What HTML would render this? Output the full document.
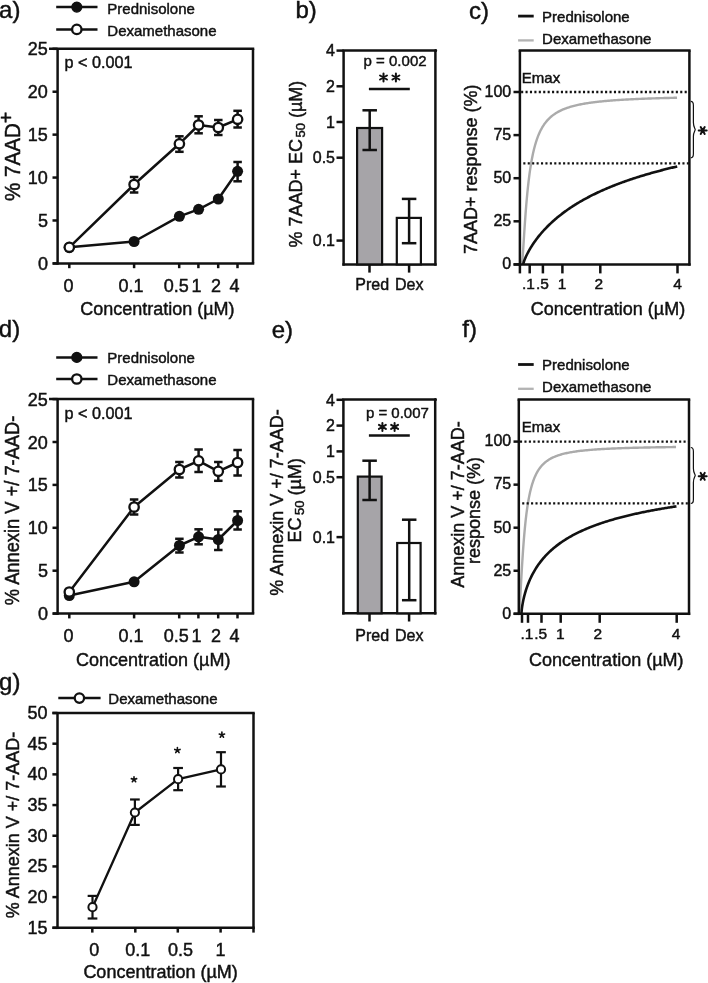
<!DOCTYPE html>
<html><head><meta charset="utf-8"><style>
html,body{margin:0;padding:0;background:#fff;}
svg{display:block;will-change:transform;}
text{font-family:"Liberation Sans",sans-serif;fill:#111;stroke:#111;stroke-width:0.45px;}
</style></head><body>
<svg width="708" height="983" viewBox="0 0 708 983">
<rect width="708" height="983" fill="#fff"/>
<text x="-0.9" y="18.3" font-size="24">a)</text>
<text x="295.5" y="17.8" font-size="24">b)</text>
<text x="469" y="18.5" font-size="24">c)</text>
<text x="-1.2" y="337.4" font-size="24">d)</text>
<text x="271.7" y="337.6" font-size="24">e)</text>
<text x="462.3" y="337.2" font-size="24">f)</text>
<text x="-0.9" y="689.5" font-size="24">g)</text>
<line x1="57.6" y1="48.8" x2="57.6" y2="264.65" stroke="#111" stroke-width="2.5"/>
<line x1="49" y1="48.8" x2="254.25" y2="48.8" stroke="#111" stroke-width="2.5"/>
<line x1="253" y1="48.8" x2="253" y2="263.4" stroke="#111" stroke-width="2.5"/>
<line x1="52.7" y1="263.4" x2="254.25" y2="263.4" stroke="#111" stroke-width="2.5"/>
<line x1="52.5" y1="263.4" x2="57.6" y2="263.4" stroke="#111" stroke-width="2.5"/>
<text x="47.9" y="269.9" font-size="18" text-anchor="end">0</text>
<line x1="52.5" y1="220.48" x2="57.6" y2="220.48" stroke="#111" stroke-width="2.5"/>
<text x="47.9" y="226.98" font-size="18" text-anchor="end">5</text>
<line x1="52.5" y1="177.56" x2="57.6" y2="177.56" stroke="#111" stroke-width="2.5"/>
<text x="47.9" y="184.06" font-size="18" text-anchor="end">10</text>
<line x1="52.5" y1="134.64" x2="57.6" y2="134.64" stroke="#111" stroke-width="2.5"/>
<text x="47.9" y="141.14" font-size="18" text-anchor="end">15</text>
<line x1="52.5" y1="91.72" x2="57.6" y2="91.72" stroke="#111" stroke-width="2.5"/>
<text x="47.9" y="98.22" font-size="18" text-anchor="end">20</text>
<line x1="52.5" y1="48.8" x2="57.6" y2="48.8" stroke="#111" stroke-width="2.5"/>
<text x="47.9" y="55.3" font-size="18" text-anchor="end">25</text>
<line x1="69.3" y1="263.4" x2="69.3" y2="268.2" stroke="#111" stroke-width="2.5"/>
<line x1="134.1" y1="263.4" x2="134.1" y2="268.2" stroke="#111" stroke-width="2.5"/>
<line x1="179.2" y1="263.4" x2="179.2" y2="268.2" stroke="#111" stroke-width="2.5"/>
<line x1="198.4" y1="263.4" x2="198.4" y2="268.2" stroke="#111" stroke-width="2.5"/>
<line x1="218.2" y1="263.4" x2="218.2" y2="268.2" stroke="#111" stroke-width="2.5"/>
<line x1="237.5" y1="263.4" x2="237.5" y2="268.2" stroke="#111" stroke-width="2.5"/>
<text x="68.6" y="291.6" font-size="18" text-anchor="middle">0</text>
<text x="131" y="291.6" font-size="18" text-anchor="middle">0.1</text>
<text x="176.3" y="291.6" font-size="18" text-anchor="middle">0.5</text>
<text x="196.5" y="291.6" font-size="18" text-anchor="middle">1</text>
<text x="215.9" y="291.6" font-size="18" text-anchor="middle">2</text>
<text x="234.6" y="291.6" font-size="18" text-anchor="middle">4</text>
<text x="157.4" y="314.8" font-size="18" text-anchor="middle">Concentration (µM)</text>
<text x="64.6" y="68.1" font-size="16.2">p &lt; 0.001</text>
<line x1="56.2" y1="7.1" x2="97.5" y2="7.1" stroke="#111" stroke-width="2.5"/>
<circle cx="76.8" cy="7.1" r="5" fill="#111" stroke="#111" stroke-width="1.2"/>
<text x="107.3" y="13.7" font-size="15">Prednisolone</text>
<line x1="56.2" y1="29.4" x2="97.5" y2="29.4" stroke="#111" stroke-width="2.5"/>
<circle cx="76.8" cy="29.4" r="4.7" fill="#fff" stroke="#111" stroke-width="2.3"/>
<text x="107.3" y="35.6" font-size="15">Dexamethasone</text>
<text transform="translate(20.4,201) rotate(-90) scale(1.0,1.08)" font-size="20.6">% 7AAD<tspan font-size="19.5" dy="-7.0">+</tspan></text>
<line x1="237.6" y1="162" x2="237.6" y2="181.3" stroke="#111" stroke-width="2.5"/>
<line x1="233.35" y1="162" x2="241.85" y2="162" stroke="#111" stroke-width="2.5"/>
<line x1="233.35" y1="181.3" x2="241.85" y2="181.3" stroke="#111" stroke-width="2.5"/>
<line x1="134.1" y1="177" x2="134.1" y2="192.5" stroke="#111" stroke-width="2.5"/>
<line x1="129.85" y1="177" x2="138.35" y2="177" stroke="#111" stroke-width="2.5"/>
<line x1="129.85" y1="192.5" x2="138.35" y2="192.5" stroke="#111" stroke-width="2.5"/>
<line x1="179.4" y1="136.3" x2="179.4" y2="151.8" stroke="#111" stroke-width="2.5"/>
<line x1="175.15" y1="136.3" x2="183.65" y2="136.3" stroke="#111" stroke-width="2.5"/>
<line x1="175.15" y1="151.8" x2="183.65" y2="151.8" stroke="#111" stroke-width="2.5"/>
<line x1="198.6" y1="116.3" x2="198.6" y2="133.3" stroke="#111" stroke-width="2.5"/>
<line x1="194.35" y1="116.3" x2="202.85" y2="116.3" stroke="#111" stroke-width="2.5"/>
<line x1="194.35" y1="133.3" x2="202.85" y2="133.3" stroke="#111" stroke-width="2.5"/>
<line x1="218.3" y1="120" x2="218.3" y2="135" stroke="#111" stroke-width="2.5"/>
<line x1="214.05" y1="120" x2="222.55" y2="120" stroke="#111" stroke-width="2.5"/>
<line x1="214.05" y1="135" x2="222.55" y2="135" stroke="#111" stroke-width="2.5"/>
<line x1="237.6" y1="110.8" x2="237.6" y2="127.5" stroke="#111" stroke-width="2.5"/>
<line x1="233.35" y1="110.8" x2="241.85" y2="110.8" stroke="#111" stroke-width="2.5"/>
<line x1="233.35" y1="127.5" x2="241.85" y2="127.5" stroke="#111" stroke-width="2.5"/>
<polyline points="69.3,247.3 134.1,241.5 179.4,216.3 198.6,209.3 218.3,199 237.6,171.3" fill="none" stroke="#111" stroke-width="2.5" stroke-linejoin="round"/>
<polyline points="69.3,247.3 134.1,184.5 179.4,143.8 198.6,125 218.3,127.5 237.6,119.3" fill="none" stroke="#111" stroke-width="2.5" stroke-linejoin="round"/>
<circle cx="69.3" cy="247.3" r="5.5" fill="#111" stroke="#111" stroke-width="0.01"/>
<circle cx="134.1" cy="241.5" r="5.5" fill="#111" stroke="#111" stroke-width="0.01"/>
<circle cx="179.4" cy="216.3" r="5.5" fill="#111" stroke="#111" stroke-width="0.01"/>
<circle cx="198.6" cy="209.3" r="5.5" fill="#111" stroke="#111" stroke-width="0.01"/>
<circle cx="218.3" cy="199" r="5.5" fill="#111" stroke="#111" stroke-width="0.01"/>
<circle cx="237.6" cy="171.3" r="5.5" fill="#111" stroke="#111" stroke-width="0.01"/>
<circle cx="69.3" cy="247.3" r="4.7" fill="#fff" stroke="#111" stroke-width="2.3"/>
<circle cx="134.1" cy="184.5" r="4.7" fill="#fff" stroke="#111" stroke-width="2.3"/>
<circle cx="179.4" cy="143.8" r="4.7" fill="#fff" stroke="#111" stroke-width="2.3"/>
<circle cx="198.6" cy="125" r="4.7" fill="#fff" stroke="#111" stroke-width="2.3"/>
<circle cx="218.3" cy="127.5" r="4.7" fill="#fff" stroke="#111" stroke-width="2.3"/>
<circle cx="237.6" cy="119.3" r="4.7" fill="#fff" stroke="#111" stroke-width="2.3"/>
<line x1="57.6" y1="399.1" x2="57.6" y2="614.85" stroke="#111" stroke-width="2.5"/>
<line x1="49" y1="399.1" x2="254.25" y2="399.1" stroke="#111" stroke-width="2.5"/>
<line x1="253" y1="399.1" x2="253" y2="613.6" stroke="#111" stroke-width="2.5"/>
<line x1="52.7" y1="613.6" x2="254.25" y2="613.6" stroke="#111" stroke-width="2.5"/>
<line x1="52.5" y1="613.6" x2="57.6" y2="613.6" stroke="#111" stroke-width="2.5"/>
<text x="47.9" y="620.1" font-size="18" text-anchor="end">0</text>
<line x1="52.5" y1="570.7" x2="57.6" y2="570.7" stroke="#111" stroke-width="2.5"/>
<text x="47.9" y="577.2" font-size="18" text-anchor="end">5</text>
<line x1="52.5" y1="527.8" x2="57.6" y2="527.8" stroke="#111" stroke-width="2.5"/>
<text x="47.9" y="534.3" font-size="18" text-anchor="end">10</text>
<line x1="52.5" y1="484.9" x2="57.6" y2="484.9" stroke="#111" stroke-width="2.5"/>
<text x="47.9" y="491.4" font-size="18" text-anchor="end">15</text>
<line x1="52.5" y1="442" x2="57.6" y2="442" stroke="#111" stroke-width="2.5"/>
<text x="47.9" y="448.5" font-size="18" text-anchor="end">20</text>
<line x1="52.5" y1="399.1" x2="57.6" y2="399.1" stroke="#111" stroke-width="2.5"/>
<text x="47.9" y="405.6" font-size="18" text-anchor="end">25</text>
<line x1="69.3" y1="613.6" x2="69.3" y2="618.4" stroke="#111" stroke-width="2.5"/>
<line x1="134.1" y1="613.6" x2="134.1" y2="618.4" stroke="#111" stroke-width="2.5"/>
<line x1="179.2" y1="613.6" x2="179.2" y2="618.4" stroke="#111" stroke-width="2.5"/>
<line x1="198.4" y1="613.6" x2="198.4" y2="618.4" stroke="#111" stroke-width="2.5"/>
<line x1="218.2" y1="613.6" x2="218.2" y2="618.4" stroke="#111" stroke-width="2.5"/>
<line x1="237.5" y1="613.6" x2="237.5" y2="618.4" stroke="#111" stroke-width="2.5"/>
<text x="68.6" y="641.6" font-size="18" text-anchor="middle">0</text>
<text x="131" y="641.6" font-size="18" text-anchor="middle">0.1</text>
<text x="176.3" y="641.6" font-size="18" text-anchor="middle">0.5</text>
<text x="196.5" y="641.6" font-size="18" text-anchor="middle">1</text>
<text x="215.9" y="641.6" font-size="18" text-anchor="middle">2</text>
<text x="234.6" y="641.6" font-size="18" text-anchor="middle">4</text>
<text x="153.2" y="666" font-size="18" text-anchor="middle">Concentration (µM)</text>
<text x="64.6" y="418.6" font-size="16.2">p &lt; 0.001</text>
<line x1="56.2" y1="357.4" x2="97.5" y2="357.4" stroke="#111" stroke-width="2.5"/>
<circle cx="76.8" cy="357.4" r="5" fill="#111" stroke="#111" stroke-width="1.2"/>
<text x="107.3" y="363.4" font-size="15">Prednisolone</text>
<line x1="56.2" y1="379" x2="97.5" y2="379" stroke="#111" stroke-width="2.5"/>
<circle cx="76.8" cy="379" r="4.7" fill="#fff" stroke="#111" stroke-width="2.3"/>
<text x="107.3" y="385.3" font-size="15">Dexamethasone</text>
<text transform="translate(19.4,605.2) rotate(-90) scale(1.0,1.1)" font-size="18.3">% Annexin V +/ 7-AAD-</text>
<line x1="179.4" y1="538.8" x2="179.4" y2="552.5" stroke="#111" stroke-width="2.5"/>
<line x1="175.15" y1="538.8" x2="183.65" y2="538.8" stroke="#111" stroke-width="2.5"/>
<line x1="175.15" y1="552.5" x2="183.65" y2="552.5" stroke="#111" stroke-width="2.5"/>
<line x1="198.6" y1="529.3" x2="198.6" y2="544.3" stroke="#111" stroke-width="2.5"/>
<line x1="194.35" y1="529.3" x2="202.85" y2="529.3" stroke="#111" stroke-width="2.5"/>
<line x1="194.35" y1="544.3" x2="202.85" y2="544.3" stroke="#111" stroke-width="2.5"/>
<line x1="218.3" y1="529.5" x2="218.3" y2="550" stroke="#111" stroke-width="2.5"/>
<line x1="214.05" y1="529.5" x2="222.55" y2="529.5" stroke="#111" stroke-width="2.5"/>
<line x1="214.05" y1="550" x2="222.55" y2="550" stroke="#111" stroke-width="2.5"/>
<line x1="237.6" y1="511.3" x2="237.6" y2="529.5" stroke="#111" stroke-width="2.5"/>
<line x1="233.35" y1="511.3" x2="241.85" y2="511.3" stroke="#111" stroke-width="2.5"/>
<line x1="233.35" y1="529.5" x2="241.85" y2="529.5" stroke="#111" stroke-width="2.5"/>
<line x1="134.1" y1="499.5" x2="134.1" y2="514.5" stroke="#111" stroke-width="2.5"/>
<line x1="129.85" y1="499.5" x2="138.35" y2="499.5" stroke="#111" stroke-width="2.5"/>
<line x1="129.85" y1="514.5" x2="138.35" y2="514.5" stroke="#111" stroke-width="2.5"/>
<line x1="179.4" y1="462" x2="179.4" y2="477.5" stroke="#111" stroke-width="2.5"/>
<line x1="175.15" y1="462" x2="183.65" y2="462" stroke="#111" stroke-width="2.5"/>
<line x1="175.15" y1="477.5" x2="183.65" y2="477.5" stroke="#111" stroke-width="2.5"/>
<line x1="198.6" y1="449.5" x2="198.6" y2="472" stroke="#111" stroke-width="2.5"/>
<line x1="194.35" y1="449.5" x2="202.85" y2="449.5" stroke="#111" stroke-width="2.5"/>
<line x1="194.35" y1="472" x2="202.85" y2="472" stroke="#111" stroke-width="2.5"/>
<line x1="218.3" y1="462" x2="218.3" y2="480.8" stroke="#111" stroke-width="2.5"/>
<line x1="214.05" y1="462" x2="222.55" y2="462" stroke="#111" stroke-width="2.5"/>
<line x1="214.05" y1="480.8" x2="222.55" y2="480.8" stroke="#111" stroke-width="2.5"/>
<line x1="237.6" y1="450" x2="237.6" y2="475.5" stroke="#111" stroke-width="2.5"/>
<line x1="233.35" y1="450" x2="241.85" y2="450" stroke="#111" stroke-width="2.5"/>
<line x1="233.35" y1="475.5" x2="241.85" y2="475.5" stroke="#111" stroke-width="2.5"/>
<polyline points="69.3,595.5 134.1,581.8 179.4,545.5 198.6,536.8 218.3,539.5 237.6,520.5" fill="none" stroke="#111" stroke-width="2.5" stroke-linejoin="round"/>
<polyline points="69.3,592 134.1,507 179.4,469.5 198.6,460.8 218.3,471.3 237.6,462.5" fill="none" stroke="#111" stroke-width="2.5" stroke-linejoin="round"/>
<circle cx="69.3" cy="595.5" r="5.5" fill="#111" stroke="#111" stroke-width="0.01"/>
<circle cx="134.1" cy="581.8" r="5.5" fill="#111" stroke="#111" stroke-width="0.01"/>
<circle cx="179.4" cy="545.5" r="5.5" fill="#111" stroke="#111" stroke-width="0.01"/>
<circle cx="198.6" cy="536.8" r="5.5" fill="#111" stroke="#111" stroke-width="0.01"/>
<circle cx="218.3" cy="539.5" r="5.5" fill="#111" stroke="#111" stroke-width="0.01"/>
<circle cx="237.6" cy="520.5" r="5.5" fill="#111" stroke="#111" stroke-width="0.01"/>
<circle cx="69.3" cy="592" r="4.7" fill="#fff" stroke="#111" stroke-width="2.3"/>
<circle cx="134.1" cy="507" r="4.7" fill="#fff" stroke="#111" stroke-width="2.3"/>
<circle cx="179.4" cy="469.5" r="4.7" fill="#fff" stroke="#111" stroke-width="2.3"/>
<circle cx="198.6" cy="460.8" r="4.7" fill="#fff" stroke="#111" stroke-width="2.3"/>
<circle cx="218.3" cy="471.3" r="4.7" fill="#fff" stroke="#111" stroke-width="2.3"/>
<circle cx="237.6" cy="462.5" r="4.7" fill="#fff" stroke="#111" stroke-width="2.3"/>
<line x1="343.6" y1="50.6" x2="343.6" y2="265.65" stroke="#111" stroke-width="2.5"/>
<line x1="342.35" y1="50.6" x2="436.65" y2="50.6" stroke="#111" stroke-width="2.5"/>
<line x1="435.4" y1="50.6" x2="435.4" y2="265.65" stroke="#111" stroke-width="2.5"/>
<line x1="342.35" y1="264.4" x2="436.65" y2="264.4" stroke="#111" stroke-width="2.5"/>
<circle cx="435.6" cy="50.4" r="1.5" fill="#111" stroke="#111" stroke-width="0.01"/>
<line x1="336.5" y1="50.6" x2="343.6" y2="50.6" stroke="#111" stroke-width="2.5"/>
<text x="335" y="56.3" font-size="16" text-anchor="end">4</text>
<line x1="336.5" y1="86.3" x2="343.6" y2="86.3" stroke="#111" stroke-width="2.5"/>
<text x="335" y="92" font-size="16" text-anchor="end">2</text>
<line x1="336.5" y1="122" x2="343.6" y2="122" stroke="#111" stroke-width="2.5"/>
<text x="335" y="127.7" font-size="16" text-anchor="end">1</text>
<line x1="336.5" y1="157.7" x2="343.6" y2="157.7" stroke="#111" stroke-width="2.5"/>
<text x="335" y="163.4" font-size="16" text-anchor="end">0.5</text>
<line x1="336.5" y1="240.59" x2="343.6" y2="240.59" stroke="#111" stroke-width="2.5"/>
<text x="335" y="246.29" font-size="16" text-anchor="end">0.1</text>
<line x1="369.5" y1="264.4" x2="369.5" y2="272.6" stroke="#111" stroke-width="2.5"/>
<line x1="409.1" y1="264.4" x2="409.1" y2="272.6" stroke="#111" stroke-width="2.5"/>
<text x="372.2" y="290.1" font-size="16" text-anchor="middle">Pred</text>
<text x="409.3" y="290.1" font-size="16" text-anchor="middle">Dex</text>
<rect x="357.1" y="128" width="25" height="136.4" fill="#a6a4a8" stroke="#111" stroke-width="2.2"/>
<rect x="396.8" y="217.9" width="24.1" height="46.5" fill="#fff" stroke="#111" stroke-width="2.2"/>
<line x1="369.7" y1="110.3" x2="369.7" y2="150" stroke="#111" stroke-width="2.5"/>
<line x1="362.45" y1="110.3" x2="376.95" y2="110.3" stroke="#111" stroke-width="2.5"/>
<line x1="362.45" y1="150" x2="376.95" y2="150" stroke="#111" stroke-width="2.5"/>
<line x1="409.1" y1="198.9" x2="409.1" y2="243.2" stroke="#111" stroke-width="2.5"/>
<line x1="401.85" y1="198.9" x2="416.35" y2="198.9" stroke="#111" stroke-width="2.5"/>
<line x1="401.85" y1="243.2" x2="416.35" y2="243.2" stroke="#111" stroke-width="2.5"/>
<text x="363.6" y="66.4" font-size="15">p = 0.002</text>
<path d="M383.5,73.5L383.5,81.5M380.04,75.5L386.96,79.5M386.96,75.5L380.04,79.5" stroke="#111" stroke-width="2" stroke-linecap="round" fill="none"/>
<path d="M395.9,73.5L395.9,81.5M392.44,75.5L399.36,79.5M399.36,75.5L392.44,79.5" stroke="#111" stroke-width="2" stroke-linecap="round" fill="none"/>
<line x1="368.9" y1="88.9" x2="409.8" y2="88.9" stroke="#111" stroke-width="2.5"/>
<text transform="translate(302.4,247.6) rotate(-90)" font-size="18">% 7AAD+ EC<tspan dx="1.5" font-size="13" dy="3">50</tspan><tspan dy="-3"> (µM)</tspan></text>
<line x1="343.4" y1="399.6" x2="343.4" y2="614.55" stroke="#111" stroke-width="2.5"/>
<line x1="342.15" y1="399.6" x2="436.45" y2="399.6" stroke="#111" stroke-width="2.5"/>
<line x1="435.2" y1="399.6" x2="435.2" y2="614.55" stroke="#111" stroke-width="2.5"/>
<line x1="342.15" y1="613.3" x2="436.45" y2="613.3" stroke="#111" stroke-width="2.5"/>
<circle cx="435.4" cy="399.4" r="1.5" fill="#111" stroke="#111" stroke-width="0.01"/>
<line x1="336.5" y1="399.8" x2="343.4" y2="399.8" stroke="#111" stroke-width="2.5"/>
<text x="335" y="405.5" font-size="16" text-anchor="end">4</text>
<line x1="336.5" y1="425.6" x2="343.4" y2="425.6" stroke="#111" stroke-width="2.5"/>
<text x="335" y="431.3" font-size="16" text-anchor="end">2</text>
<line x1="336.5" y1="451.4" x2="343.4" y2="451.4" stroke="#111" stroke-width="2.5"/>
<text x="335" y="457.1" font-size="16" text-anchor="end">1</text>
<line x1="336.5" y1="477.2" x2="343.4" y2="477.2" stroke="#111" stroke-width="2.5"/>
<text x="335" y="482.9" font-size="16" text-anchor="end">0.5</text>
<line x1="336.5" y1="537.11" x2="343.4" y2="537.11" stroke="#111" stroke-width="2.5"/>
<text x="335" y="542.81" font-size="16" text-anchor="end">0.1</text>
<line x1="369.5" y1="613.3" x2="369.5" y2="621.5" stroke="#111" stroke-width="2.5"/>
<line x1="409.1" y1="613.3" x2="409.1" y2="621.5" stroke="#111" stroke-width="2.5"/>
<text x="372.2" y="640.5" font-size="16" text-anchor="middle">Pred</text>
<text x="409.3" y="640.5" font-size="16" text-anchor="middle">Dex</text>
<rect x="357.8" y="476.6" width="23.8" height="136.7" fill="#a6a4a8" stroke="#111" stroke-width="2.2"/>
<rect x="397.2" y="543" width="23.4" height="70.3" fill="#fff" stroke="#111" stroke-width="2.2"/>
<line x1="369.6" y1="460.7" x2="369.6" y2="500" stroke="#111" stroke-width="2.5"/>
<line x1="362.35" y1="460.7" x2="376.85" y2="460.7" stroke="#111" stroke-width="2.5"/>
<line x1="362.35" y1="500" x2="376.85" y2="500" stroke="#111" stroke-width="2.5"/>
<line x1="409.2" y1="519.7" x2="409.2" y2="600.2" stroke="#111" stroke-width="2.5"/>
<line x1="401.95" y1="519.7" x2="416.45" y2="519.7" stroke="#111" stroke-width="2.5"/>
<line x1="401.95" y1="600.2" x2="416.45" y2="600.2" stroke="#111" stroke-width="2.5"/>
<text x="365.9" y="417.9" font-size="15">p = 0.007</text>
<path d="M382.4,422.9L382.4,430.9M378.94,424.9L385.86,428.9M385.86,424.9L378.94,428.9" stroke="#111" stroke-width="2" stroke-linecap="round" fill="none"/>
<path d="M394.6,422.9L394.6,430.9M391.14,424.9L398.06,428.9M398.06,424.9L391.14,428.9" stroke="#111" stroke-width="2" stroke-linecap="round" fill="none"/>
<line x1="368.9" y1="435.6" x2="409.8" y2="435.6" stroke="#111" stroke-width="2.5"/>
<text transform="translate(283.2,595.8) rotate(-90)" font-size="18">% Annexin V +/ 7-AAD-</text>
<text transform="translate(301.2,542.4) rotate(-90)" font-size="18">EC<tspan dx="2.5" font-size="13" dy="3">50</tspan><tspan dy="-3"> (µM)</tspan></text>
<line x1="518.1" y1="16.1" x2="533.7" y2="16.1" stroke="#111" stroke-width="2.8"/>
<text x="542.1" y="21.8" font-size="15">Prednisolone</text>
<line x1="518.1" y1="40.4" x2="533.7" y2="40.4" stroke="#b3b3b3" stroke-width="2.3"/>
<text x="542.1" y="43.8" font-size="15">Dexamethasone</text>
<polyline points="522.05,264.2 522.3,262 522.55,258.83 522.8,255.26 523.05,251.46 523.3,247.54 523.55,243.59 523.8,239.63 524.05,235.71 524.3,231.85 524.55,228.08 524.8,224.39 525.05,220.81 525.3,217.33 525.55,213.96 525.8,210.7 526.05,207.55 526.3,204.51 526.55,201.57 526.8,198.75 527.05,196.02 527.3,193.4 527.55,190.87 527.8,188.43 528.05,186.09 528.3,183.83 528.55,181.65 528.8,179.56 529.05,177.54 529.3,175.59 529.55,173.71 529.8,171.9 530.05,170.15 530.3,168.47 530.55,166.84 530.8,165.27 531.05,163.76 531.3,162.29 531.55,160.88 531.8,159.51 532.05,158.19 533.05,153.32 534.05,149.03 535.05,145.24 536.05,141.87 537.05,138.86 538.05,136.16 539.05,133.74 540.05,131.54 541.05,129.55 542.05,127.73 543.05,126.07 544.05,124.55 545.05,123.16 546.05,121.87 547.05,120.68 548.05,119.58 549.05,118.56 550.05,117.61 551.05,116.72 552.05,115.89 553.05,115.11 554.05,114.39 555.05,113.71 556.05,113.06 557.05,112.46 558.05,111.89 559.05,111.35 560.05,110.84 561.05,110.36 562.05,109.9 563.05,109.47 564.05,109.05 565.05,108.66 566.05,108.29 567.05,107.93 568.05,107.59 569.05,107.27 570.05,106.96 571.05,106.66 572.05,106.37 573.05,106.1 574.05,105.84 575.05,105.59 576.05,105.35 577.05,105.12 578.05,104.9 579.05,104.68 580.05,104.48 581.05,104.28 582.05,104.09 583.05,103.9 584.05,103.72 585.05,103.55 586.05,103.39 587.05,103.23 588.05,103.07 589.05,102.92 590.05,102.78 591.05,102.63 592.05,102.5 593.05,102.37 594.05,102.24 595.05,102.11 596.05,101.99 597.05,101.88 598.05,101.76 599.05,101.65 600.05,101.55 601.05,101.44 602.05,101.34 603.05,101.24 604.05,101.15 605.05,101.05 606.05,100.96 607.05,100.87 608.05,100.79 609.05,100.7 610.05,100.62 611.05,100.54 612.05,100.47 613.05,100.39 614.05,100.32 615.05,100.24 616.05,100.17 617.05,100.1 618.05,100.04 619.05,99.97 620.05,99.91 621.05,99.84 622.05,99.78 623.05,99.72 624.05,99.66 625.05,99.61 626.05,99.55 627.05,99.49 628.05,99.44 629.05,99.39 630.05,99.34 631.05,99.29 632.05,99.24 633.05,99.19 634.05,99.14 635.05,99.09 636.05,99.05 637.05,99 638.05,98.96 639.05,98.92 640.05,98.87 641.05,98.83 642.05,98.79 643.05,98.75 644.05,98.71 645.05,98.67 646.05,98.64 647.05,98.6 648.05,98.56 649.05,98.53 650.05,98.49 651.05,98.46 652.05,98.42 653.05,98.39 654.05,98.36 655.05,98.33 656.05,98.29 657.05,98.26 658.05,98.23 659.05,98.2 660.05,98.17 661.05,98.14 662.05,98.11 663.05,98.09 664.05,98.06 665.05,98.03 666.05,98 667.05,97.98 668.05,97.95 669.05,97.93 670.05,97.9 671.05,97.88 672.05,97.85 673.05,97.83 674.05,97.8 675.05,97.78 676.05,97.76 677.05,97.73" fill="none" stroke="#ababab" stroke-width="2.4" stroke-linejoin="round"/>
<polyline points="523.21,264.2 523.46,263.1 523.71,262.26 523.96,261.51 524.21,260.8 524.46,260.13 524.71,259.49 524.96,258.87 525.21,258.27 525.46,257.69 525.71,257.12 525.96,256.57 526.21,256.03 526.46,255.5 526.71,254.98 526.96,254.47 527.21,253.97 527.46,253.48 527.71,252.99 527.96,252.52 528.21,252.05 528.46,251.59 528.71,251.13 528.96,250.68 529.21,250.23 529.46,249.8 529.71,249.36 529.96,248.93 530.21,248.51 530.46,248.09 530.71,247.68 530.96,247.27 531.21,246.87 531.46,246.47 531.71,246.07 531.96,245.68 532.21,245.29 532.46,244.9 532.71,244.52 532.96,244.15 533.21,243.77 534.21,242.31 535.21,240.9 536.21,239.53 537.21,238.21 538.21,236.92 539.21,235.68 540.21,234.46 541.21,233.28 542.21,232.13 543.21,231 544.21,229.91 545.21,228.84 546.21,227.79 547.21,226.77 548.21,225.77 549.21,224.79 550.21,223.83 551.21,222.89 552.21,221.97 553.21,221.06 554.21,220.18 555.21,219.31 556.21,218.45 557.21,217.62 558.21,216.79 559.21,215.99 560.21,215.19 561.21,214.41 562.21,213.64 563.21,212.89 564.21,212.14 565.21,211.41 566.21,210.69 567.21,209.99 568.21,209.29 569.21,208.6 570.21,207.93 571.21,207.26 572.21,206.6 573.21,205.96 574.21,205.32 575.21,204.69 576.21,204.07 577.21,203.46 578.21,202.86 579.21,202.26 580.21,201.68 581.21,201.1 582.21,200.53 583.21,199.96 584.21,199.41 585.21,198.86 586.21,198.31 587.21,197.78 588.21,197.25 589.21,196.73 590.21,196.21 591.21,195.7 592.21,195.2 593.21,194.7 594.21,194.21 595.21,193.72 596.21,193.24 597.21,192.76 598.21,192.29 599.21,191.83 600.21,191.37 601.21,190.92 602.21,190.47 603.21,190.02 604.21,189.58 605.21,189.15 606.21,188.72 607.21,188.29 608.21,187.87 609.21,187.45 610.21,187.04 611.21,186.63 612.21,186.23 613.21,185.83 614.21,185.43 615.21,185.04 616.21,184.65 617.21,184.27 618.21,183.89 619.21,183.51 620.21,183.14 621.21,182.77 622.21,182.4 623.21,182.04 624.21,181.68 625.21,181.33 626.21,180.97 627.21,180.62 628.21,180.28 629.21,179.93 630.21,179.59 631.21,179.26 632.21,178.92 633.21,178.59 634.21,178.27 635.21,177.94 636.21,177.62 637.21,177.3 638.21,176.98 639.21,176.67 640.21,176.36 641.21,176.05 642.21,175.74 643.21,175.44 644.21,175.14 645.21,174.84 646.21,174.55 647.21,174.25 648.21,173.96 649.21,173.67 650.21,173.39 651.21,173.1 652.21,172.82 653.21,172.54 654.21,172.26 655.21,171.99 656.21,171.72 657.21,171.44 658.21,171.18 659.21,170.91 660.21,170.65 661.21,170.38 662.21,170.12 663.21,169.86 664.21,169.61 665.21,169.35 666.21,169.1 667.21,168.85 668.21,168.6 669.21,168.35 670.21,168.11 671.21,167.86 672.21,167.62 673.21,167.38 674.21,167.14 675.21,166.91 676.21,166.67 677.21,166.44" fill="none" stroke="#111" stroke-width="2.6" stroke-linejoin="round"/>
<line x1="519.9" y1="50.5" x2="519.9" y2="265.65" stroke="#111" stroke-width="2.5"/>
<line x1="518.65" y1="50.5" x2="690.65" y2="50.5" stroke="#111" stroke-width="2.5"/>
<line x1="689.4" y1="50.5" x2="689.4" y2="265.65" stroke="#111" stroke-width="2.5"/>
<line x1="513.6" y1="264.4" x2="690.65" y2="264.4" stroke="#111" stroke-width="2.5"/>
<line x1="513.5" y1="264.4" x2="519.9" y2="264.4" stroke="#111" stroke-width="2.5"/>
<text x="511.2" y="269.2" font-size="16" text-anchor="end">0</text>
<line x1="513.5" y1="221.3" x2="519.9" y2="221.3" stroke="#111" stroke-width="2.5"/>
<text x="511.2" y="226.1" font-size="16" text-anchor="end">25</text>
<line x1="513.5" y1="178.2" x2="519.9" y2="178.2" stroke="#111" stroke-width="2.5"/>
<text x="511.2" y="183" font-size="16" text-anchor="end">50</text>
<line x1="513.5" y1="135.1" x2="519.9" y2="135.1" stroke="#111" stroke-width="2.5"/>
<text x="511.2" y="139.9" font-size="16" text-anchor="end">75</text>
<line x1="513.5" y1="92" x2="519.9" y2="92" stroke="#111" stroke-width="2.5"/>
<text x="511.2" y="96.8" font-size="16" text-anchor="end">100</text>
<line x1="519.9" y1="264.4" x2="519.9" y2="273.4" stroke="#111" stroke-width="2.5"/>
<line x1="529.7" y1="264.4" x2="529.7" y2="273.4" stroke="#111" stroke-width="2.5"/>
<line x1="542.9" y1="264.4" x2="542.9" y2="273.4" stroke="#111" stroke-width="2.5"/>
<line x1="562.4" y1="264.4" x2="562.4" y2="273.4" stroke="#111" stroke-width="2.5"/>
<line x1="600.3" y1="264.4" x2="600.3" y2="273.4" stroke="#111" stroke-width="2.5"/>
<line x1="677.5" y1="264.4" x2="677.5" y2="273.4" stroke="#111" stroke-width="2.5"/>
<text x="528.4" y="288.8" font-size="15.5" text-anchor="middle">.1</text>
<text x="542.4" y="288.8" font-size="15.5" text-anchor="middle">.5</text>
<text x="562" y="288.8" font-size="15.5" text-anchor="middle">1</text>
<text x="598.8" y="288.8" font-size="15.5" text-anchor="middle">2</text>
<text x="677.5" y="288.8" font-size="15.5" text-anchor="middle">4</text>
<text x="608" y="315.1" font-size="18" text-anchor="middle">Concentration (µM)</text>
<line x1="521.1" y1="92" x2="688.4" y2="92" stroke="#111" stroke-width="2.3" stroke-dasharray="2.1 2.32"/>
<line x1="523.3" y1="163.4" x2="688.9" y2="163.4" stroke="#111" stroke-width="2.3" stroke-dasharray="2.1 2.32"/>
<text x="521.8" y="83" font-size="15">Emax</text>
<path d="M690.8,101.4 q2.6,0 2.6,4 L693.4,122.60000000000002 C693.4,127.10000000000002 695.1999999999999,128.40000000000003 695.1999999999999,129.60000000000002 C695.1999999999999,130.8 693.4,132.10000000000002 693.4,136.60000000000002 L693.4,153.8 q0,4 -2.6,4" fill="none" stroke="#111" stroke-width="1.2"/>
<path d="M698.7,130.5L706.7,130.5M700.7,127.04L704.7,133.96M704.7,127.04L700.7,133.96" stroke="#111" stroke-width="2" stroke-linecap="round" fill="none"/>
<text transform="translate(477.1,254.1) rotate(-90)" font-size="18">7AAD+ response (%)</text>
<line x1="518.1" y1="364.5" x2="533.7" y2="364.5" stroke="#111" stroke-width="2.8"/>
<text x="542.1" y="370.2" font-size="15">Prednisolone</text>
<line x1="518.1" y1="388.8" x2="533.7" y2="388.8" stroke="#b3b3b3" stroke-width="2.3"/>
<text x="542.1" y="392.2" font-size="15">Dexamethasone</text>
<polyline points="519.04,613.6 519.29,611.77 519.54,608.72 519.79,605.03 520.04,600.95 520.29,596.62 520.54,592.16 520.79,587.64 521.04,583.13 521.29,578.65 521.54,574.26 521.79,569.96 522.04,565.78 522.29,561.73 522.54,557.82 522.79,554.05 523.04,550.42 523.29,546.93 523.54,543.59 523.79,540.38 524.04,537.31 524.29,534.37 524.54,531.55 524.79,528.86 525.04,526.28 525.29,523.81 525.54,521.45 525.79,519.19 526.04,517.03 526.29,514.96 526.54,512.97 526.79,511.07 527.04,509.25 527.29,507.5 527.54,505.83 527.79,504.22 528.04,502.68 528.29,501.2 528.54,499.78 528.79,498.41 529.04,497.1 530.04,492.32 531.04,488.21 532.04,484.64 533.04,481.53 534.04,478.8 535.04,476.39 536.04,474.25 537.04,472.34 538.04,470.64 539.04,469.1 540.04,467.72 541.04,466.46 542.04,465.32 543.04,464.27 544.04,463.32 545.04,462.44 546.04,461.64 547.04,460.89 548.04,460.21 549.04,459.57 550.04,458.98 551.04,458.42 552.04,457.91 553.04,457.43 554.04,456.98 555.04,456.55 556.04,456.16 557.04,455.79 558.04,455.43 559.04,455.1 560.04,454.79 561.04,454.49 562.04,454.21 563.04,453.95 564.04,453.69 565.04,453.45 566.04,453.23 567.04,453.01 568.04,452.8 569.04,452.6 570.04,452.42 571.04,452.24 572.04,452.06 573.04,451.9 574.04,451.74 575.04,451.59 576.04,451.45 577.04,451.31 578.04,451.17 579.04,451.05 580.04,450.92 581.04,450.8 582.04,450.69 583.04,450.58 584.04,450.47 585.04,450.37 586.04,450.27 587.04,450.18 588.04,450.08 589.04,450 590.04,449.91 591.04,449.83 592.04,449.75 593.04,449.67 594.04,449.59 595.04,449.52 596.04,449.45 597.04,449.38 598.04,449.31 599.04,449.25 600.04,449.19 601.04,449.13 602.04,449.07 603.04,449.01 604.04,448.95 605.04,448.9 606.04,448.85 607.04,448.79 608.04,448.74 609.04,448.7 610.04,448.65 611.04,448.6 612.04,448.56 613.04,448.51 614.04,448.47 615.04,448.43 616.04,448.39 617.04,448.35 618.04,448.31 619.04,448.27 620.04,448.23 621.04,448.2 622.04,448.16 623.04,448.13 624.04,448.1 625.04,448.06 626.04,448.03 627.04,448 628.04,447.97 629.04,447.94 630.04,447.91 631.04,447.88 632.04,447.85 633.04,447.82 634.04,447.8 635.04,447.77 636.04,447.75 637.04,447.72 638.04,447.69 639.04,447.67 640.04,447.65 641.04,447.62 642.04,447.6 643.04,447.58 644.04,447.56 645.04,447.53 646.04,447.51 647.04,447.49 648.04,447.47 649.04,447.45 650.04,447.43 651.04,447.41 652.04,447.39 653.04,447.38 654.04,447.36 655.04,447.34 656.04,447.32 657.04,447.3 658.04,447.29 659.04,447.27 660.04,447.25 661.04,447.24 662.04,447.22 663.04,447.21 664.04,447.19 665.04,447.18 666.04,447.16 667.04,447.15 668.04,447.13 669.04,447.12 670.04,447.1 671.04,447.09 672.04,447.08 673.04,447.06 674.04,447.05 675.04,447.04 676.04,447.02" fill="none" stroke="#ababab" stroke-width="2.4" stroke-linejoin="round"/>
<polyline points="521.44,613.6 521.69,610.23 521.94,608.12 522.19,606.35 522.44,604.78 522.69,603.35 522.94,602.02 523.19,600.77 523.44,599.6 523.69,598.48 523.94,597.42 524.19,596.4 524.44,595.42 524.69,594.47 524.94,593.56 525.19,592.68 525.44,591.82 525.69,591 525.94,590.19 526.19,589.41 526.44,588.65 526.69,587.9 526.94,587.18 527.19,586.47 527.44,585.78 527.69,585.1 527.94,584.44 528.19,583.8 528.44,583.16 528.69,582.54 528.94,581.93 529.19,581.33 529.44,580.75 529.69,580.17 529.94,579.6 530.19,579.05 530.44,578.5 530.69,577.96 530.94,577.44 531.19,576.92 531.44,576.4 532.44,574.43 533.44,572.58 534.44,570.82 535.44,569.15 536.44,567.57 537.44,566.05 538.44,564.61 539.44,563.22 540.44,561.89 541.44,560.62 542.44,559.39 543.44,558.21 544.44,557.07 545.44,555.96 546.44,554.9 547.44,553.87 548.44,552.87 549.44,551.91 550.44,550.97 551.44,550.06 552.44,549.18 553.44,548.32 554.44,547.49 555.44,546.67 556.44,545.88 557.44,545.11 558.44,544.36 559.44,543.63 560.44,542.91 561.44,542.21 562.44,541.53 563.44,540.87 564.44,540.22 565.44,539.58 566.44,538.96 567.44,538.35 568.44,537.75 569.44,537.17 570.44,536.59 571.44,536.03 572.44,535.48 573.44,534.95 574.44,534.42 575.44,533.9 576.44,533.39 577.44,532.89 578.44,532.4 579.44,531.92 580.44,531.45 581.44,530.98 582.44,530.53 583.44,530.08 584.44,529.64 585.44,529.21 586.44,528.78 587.44,528.36 588.44,527.95 589.44,527.54 590.44,527.14 591.44,526.75 592.44,526.36 593.44,525.98 594.44,525.61 595.44,525.24 596.44,524.87 597.44,524.51 598.44,524.16 599.44,523.81 600.44,523.47 601.44,523.13 602.44,522.8 603.44,522.47 604.44,522.14 605.44,521.82 606.44,521.5 607.44,521.19 608.44,520.88 609.44,520.58 610.44,520.28 611.44,519.98 612.44,519.69 613.44,519.4 614.44,519.12 615.44,518.84 616.44,518.56 617.44,518.28 618.44,518.01 619.44,517.75 620.44,517.48 621.44,517.22 622.44,516.96 623.44,516.7 624.44,516.45 625.44,516.2 626.44,515.96 627.44,515.71 628.44,515.47 629.44,515.23 630.44,514.99 631.44,514.76 632.44,514.53 633.44,514.3 634.44,514.08 635.44,513.85 636.44,513.63 637.44,513.41 638.44,513.2 639.44,512.98 640.44,512.77 641.44,512.56 642.44,512.35 643.44,512.14 644.44,511.94 645.44,511.74 646.44,511.54 647.44,511.34 648.44,511.15 649.44,510.95 650.44,510.76 651.44,510.57 652.44,510.38 653.44,510.19 654.44,510.01 655.44,509.83 656.44,509.64 657.44,509.47 658.44,509.29 659.44,509.11 660.44,508.94 661.44,508.76 662.44,508.59 663.44,508.42 664.44,508.25 665.44,508.08 666.44,507.92 667.44,507.75 668.44,507.59 669.44,507.43 670.44,507.27 671.44,507.11 672.44,506.95 673.44,506.8 674.44,506.64 675.44,506.49 676.44,506.34" fill="none" stroke="#111" stroke-width="2.6" stroke-linejoin="round"/>
<line x1="518.8" y1="399.4" x2="518.8" y2="615.05" stroke="#111" stroke-width="2.5"/>
<line x1="517.55" y1="399.4" x2="690.25" y2="399.4" stroke="#111" stroke-width="2.5"/>
<line x1="689" y1="399.4" x2="689" y2="615.05" stroke="#111" stroke-width="2.5"/>
<line x1="513.6" y1="613.8" x2="690.25" y2="613.8" stroke="#111" stroke-width="2.5"/>
<line x1="513.5" y1="613.8" x2="518.8" y2="613.8" stroke="#111" stroke-width="2.5"/>
<text x="511.2" y="618.6" font-size="16" text-anchor="end">0</text>
<line x1="513.5" y1="570.75" x2="518.8" y2="570.75" stroke="#111" stroke-width="2.5"/>
<text x="511.2" y="575.55" font-size="16" text-anchor="end">25</text>
<line x1="513.5" y1="527.7" x2="518.8" y2="527.7" stroke="#111" stroke-width="2.5"/>
<text x="511.2" y="532.5" font-size="16" text-anchor="end">50</text>
<line x1="513.5" y1="484.65" x2="518.8" y2="484.65" stroke="#111" stroke-width="2.5"/>
<text x="511.2" y="489.45" font-size="16" text-anchor="end">75</text>
<line x1="513.5" y1="441.6" x2="518.8" y2="441.6" stroke="#111" stroke-width="2.5"/>
<text x="511.2" y="446.4" font-size="16" text-anchor="end">100</text>
<line x1="522" y1="613.8" x2="522" y2="622.8" stroke="#111" stroke-width="2.5"/>
<line x1="528" y1="613.8" x2="528" y2="622.8" stroke="#111" stroke-width="2.5"/>
<line x1="541.5" y1="613.8" x2="541.5" y2="622.8" stroke="#111" stroke-width="2.5"/>
<line x1="560.7" y1="613.8" x2="560.7" y2="622.8" stroke="#111" stroke-width="2.5"/>
<line x1="599.7" y1="613.8" x2="599.7" y2="622.8" stroke="#111" stroke-width="2.5"/>
<line x1="676.7" y1="613.8" x2="676.7" y2="622.8" stroke="#111" stroke-width="2.5"/>
<text x="527" y="639.4" font-size="15.5" text-anchor="middle">.1</text>
<text x="540.6" y="639.4" font-size="15.5" text-anchor="middle">.5</text>
<text x="560.3" y="639.4" font-size="15.5" text-anchor="middle">1</text>
<text x="597.9" y="639.4" font-size="15.5" text-anchor="middle">2</text>
<text x="676" y="639.4" font-size="15.5" text-anchor="middle">4</text>
<text x="606.3" y="665.9" font-size="18" text-anchor="middle">Concentration (µM)</text>
<line x1="520" y1="441.6" x2="688" y2="441.6" stroke="#111" stroke-width="2.3" stroke-dasharray="2.1 2.32"/>
<line x1="522.2" y1="503.4" x2="688.5" y2="503.4" stroke="#111" stroke-width="2.3" stroke-dasharray="2.1 2.32"/>
<text x="521.8" y="431.8" font-size="15">Emax</text>
<path d="M690.8,447.5 q2.6,0 2.6,4 L693.4,468.45 C693.4,472.95 695.1999999999999,474.25 695.1999999999999,475.45 C695.1999999999999,476.65 693.4,477.95 693.4,482.45 L693.4,499.4 q0,4 -2.6,4" fill="none" stroke="#111" stroke-width="1.2"/>
<path d="M698.7,476.35L706.7,476.35M700.7,472.89L704.7,479.81M704.7,472.89L700.7,479.81" stroke="#111" stroke-width="2" stroke-linecap="round" fill="none"/>
<text transform="translate(464.4,504.5) rotate(-90)" font-size="18" text-anchor="middle">Annexin V +/ 7-AAD-</text>
<text transform="translate(480.3,510.6) rotate(-90)" font-size="18" text-anchor="middle">response (%)</text>
<line x1="57.5" y1="713" x2="57.5" y2="929.05" stroke="#111" stroke-width="2.5"/>
<line x1="52.4" y1="713" x2="254.75" y2="713" stroke="#111" stroke-width="2.5"/>
<line x1="253.5" y1="713" x2="253.5" y2="932.6" stroke="#111" stroke-width="2.5"/>
<line x1="52.4" y1="927.8" x2="254.75" y2="927.8" stroke="#111" stroke-width="2.5"/>
<line x1="52.4" y1="927.8" x2="57.5" y2="927.8" stroke="#111" stroke-width="2.5"/>
<text x="47.6" y="933.8" font-size="18" text-anchor="end">15</text>
<line x1="52.4" y1="897.11" x2="57.5" y2="897.11" stroke="#111" stroke-width="2.5"/>
<text x="47.6" y="903.11" font-size="18" text-anchor="end">20</text>
<line x1="52.4" y1="866.43" x2="57.5" y2="866.43" stroke="#111" stroke-width="2.5"/>
<text x="47.6" y="872.43" font-size="18" text-anchor="end">25</text>
<line x1="52.4" y1="835.74" x2="57.5" y2="835.74" stroke="#111" stroke-width="2.5"/>
<text x="47.6" y="841.74" font-size="18" text-anchor="end">30</text>
<line x1="52.4" y1="805.06" x2="57.5" y2="805.06" stroke="#111" stroke-width="2.5"/>
<text x="47.6" y="811.06" font-size="18" text-anchor="end">35</text>
<line x1="52.4" y1="774.37" x2="57.5" y2="774.37" stroke="#111" stroke-width="2.5"/>
<text x="47.6" y="780.37" font-size="18" text-anchor="end">40</text>
<line x1="52.4" y1="743.69" x2="57.5" y2="743.69" stroke="#111" stroke-width="2.5"/>
<text x="47.6" y="749.69" font-size="18" text-anchor="end">45</text>
<line x1="52.4" y1="713" x2="57.5" y2="713" stroke="#111" stroke-width="2.5"/>
<text x="47.6" y="719" font-size="18" text-anchor="end">50</text>
<line x1="92.3" y1="927.8" x2="92.3" y2="932.6" stroke="#111" stroke-width="2.5"/>
<line x1="135.3" y1="927.8" x2="135.3" y2="932.6" stroke="#111" stroke-width="2.5"/>
<line x1="177.8" y1="927.8" x2="177.8" y2="932.6" stroke="#111" stroke-width="2.5"/>
<line x1="220.6" y1="927.8" x2="220.6" y2="932.6" stroke="#111" stroke-width="2.5"/>
<text x="94.2" y="955.6" font-size="18" text-anchor="middle">0</text>
<text x="137.8" y="955.6" font-size="18" text-anchor="middle">0.1</text>
<text x="180.5" y="955.6" font-size="18" text-anchor="middle">0.5</text>
<text x="220.6" y="955.6" font-size="18" text-anchor="middle">1</text>
<text x="160.6" y="977.9" font-size="18" text-anchor="middle">Concentration (µM)</text>
<line x1="58.3" y1="698.1" x2="100.6" y2="698.1" stroke="#111" stroke-width="2.5"/>
<circle cx="79.4" cy="698.1" r="4.7" fill="#fff" stroke="#111" stroke-width="2.3"/>
<text x="108.3" y="704.1" font-size="15">Dexamethasone</text>
<text transform="translate(19.3,918.3) rotate(-90)" font-size="18">% Annexin V +/ 7-AAD-</text>
<line x1="92.5" y1="895.9" x2="92.5" y2="918.5" stroke="#111" stroke-width="2.2"/>
<line x1="87.65" y1="895.9" x2="97.35" y2="895.9" stroke="#111" stroke-width="2.2"/>
<line x1="87.65" y1="918.5" x2="97.35" y2="918.5" stroke="#111" stroke-width="2.2"/>
<line x1="134.9" y1="799.5" x2="134.9" y2="824.9" stroke="#111" stroke-width="2.2"/>
<line x1="130.05" y1="799.5" x2="139.75" y2="799.5" stroke="#111" stroke-width="2.2"/>
<line x1="130.05" y1="824.9" x2="139.75" y2="824.9" stroke="#111" stroke-width="2.2"/>
<line x1="178.1" y1="768" x2="178.1" y2="790.2" stroke="#111" stroke-width="2.2"/>
<line x1="173.25" y1="768" x2="182.95" y2="768" stroke="#111" stroke-width="2.2"/>
<line x1="173.25" y1="790.2" x2="182.95" y2="790.2" stroke="#111" stroke-width="2.2"/>
<line x1="221" y1="752.2" x2="221" y2="786.5" stroke="#111" stroke-width="2.2"/>
<line x1="216.15" y1="752.2" x2="225.85" y2="752.2" stroke="#111" stroke-width="2.2"/>
<line x1="216.15" y1="786.5" x2="225.85" y2="786.5" stroke="#111" stroke-width="2.2"/>
<polyline points="92.5,907.2 134.9,812.5 178.1,779.2 221,769.4" fill="none" stroke="#111" stroke-width="2.3" stroke-linejoin="round"/>
<circle cx="92.5" cy="907.2" r="4.1" fill="#fff" stroke="#111" stroke-width="2"/>
<circle cx="134.9" cy="812.5" r="4.1" fill="#fff" stroke="#111" stroke-width="2"/>
<circle cx="178.1" cy="779.2" r="4.1" fill="#fff" stroke="#111" stroke-width="2"/>
<circle cx="221" cy="769.4" r="4.1" fill="#fff" stroke="#111" stroke-width="2"/>
<path d="M134,779.5L134,776.7M134,779.5L136.66,778.63M134,779.5L135.65,781.77M134,779.5L132.35,781.77M134,779.5L131.34,778.63" stroke="#111" stroke-width="1.6" stroke-linecap="round" fill="none"/>
<path d="M177.4,750.3L177.4,747.5M177.4,750.3L180.06,749.43M177.4,750.3L179.05,752.57M177.4,750.3L175.75,752.57M177.4,750.3L174.74,749.43" stroke="#111" stroke-width="1.6" stroke-linecap="round" fill="none"/>
<path d="M221.9,734.9L221.9,732.1M221.9,734.9L224.56,734.03M221.9,734.9L223.55,737.17M221.9,734.9L220.25,737.17M221.9,734.9L219.24,734.03" stroke="#111" stroke-width="1.6" stroke-linecap="round" fill="none"/>
</svg>
</body></html>
